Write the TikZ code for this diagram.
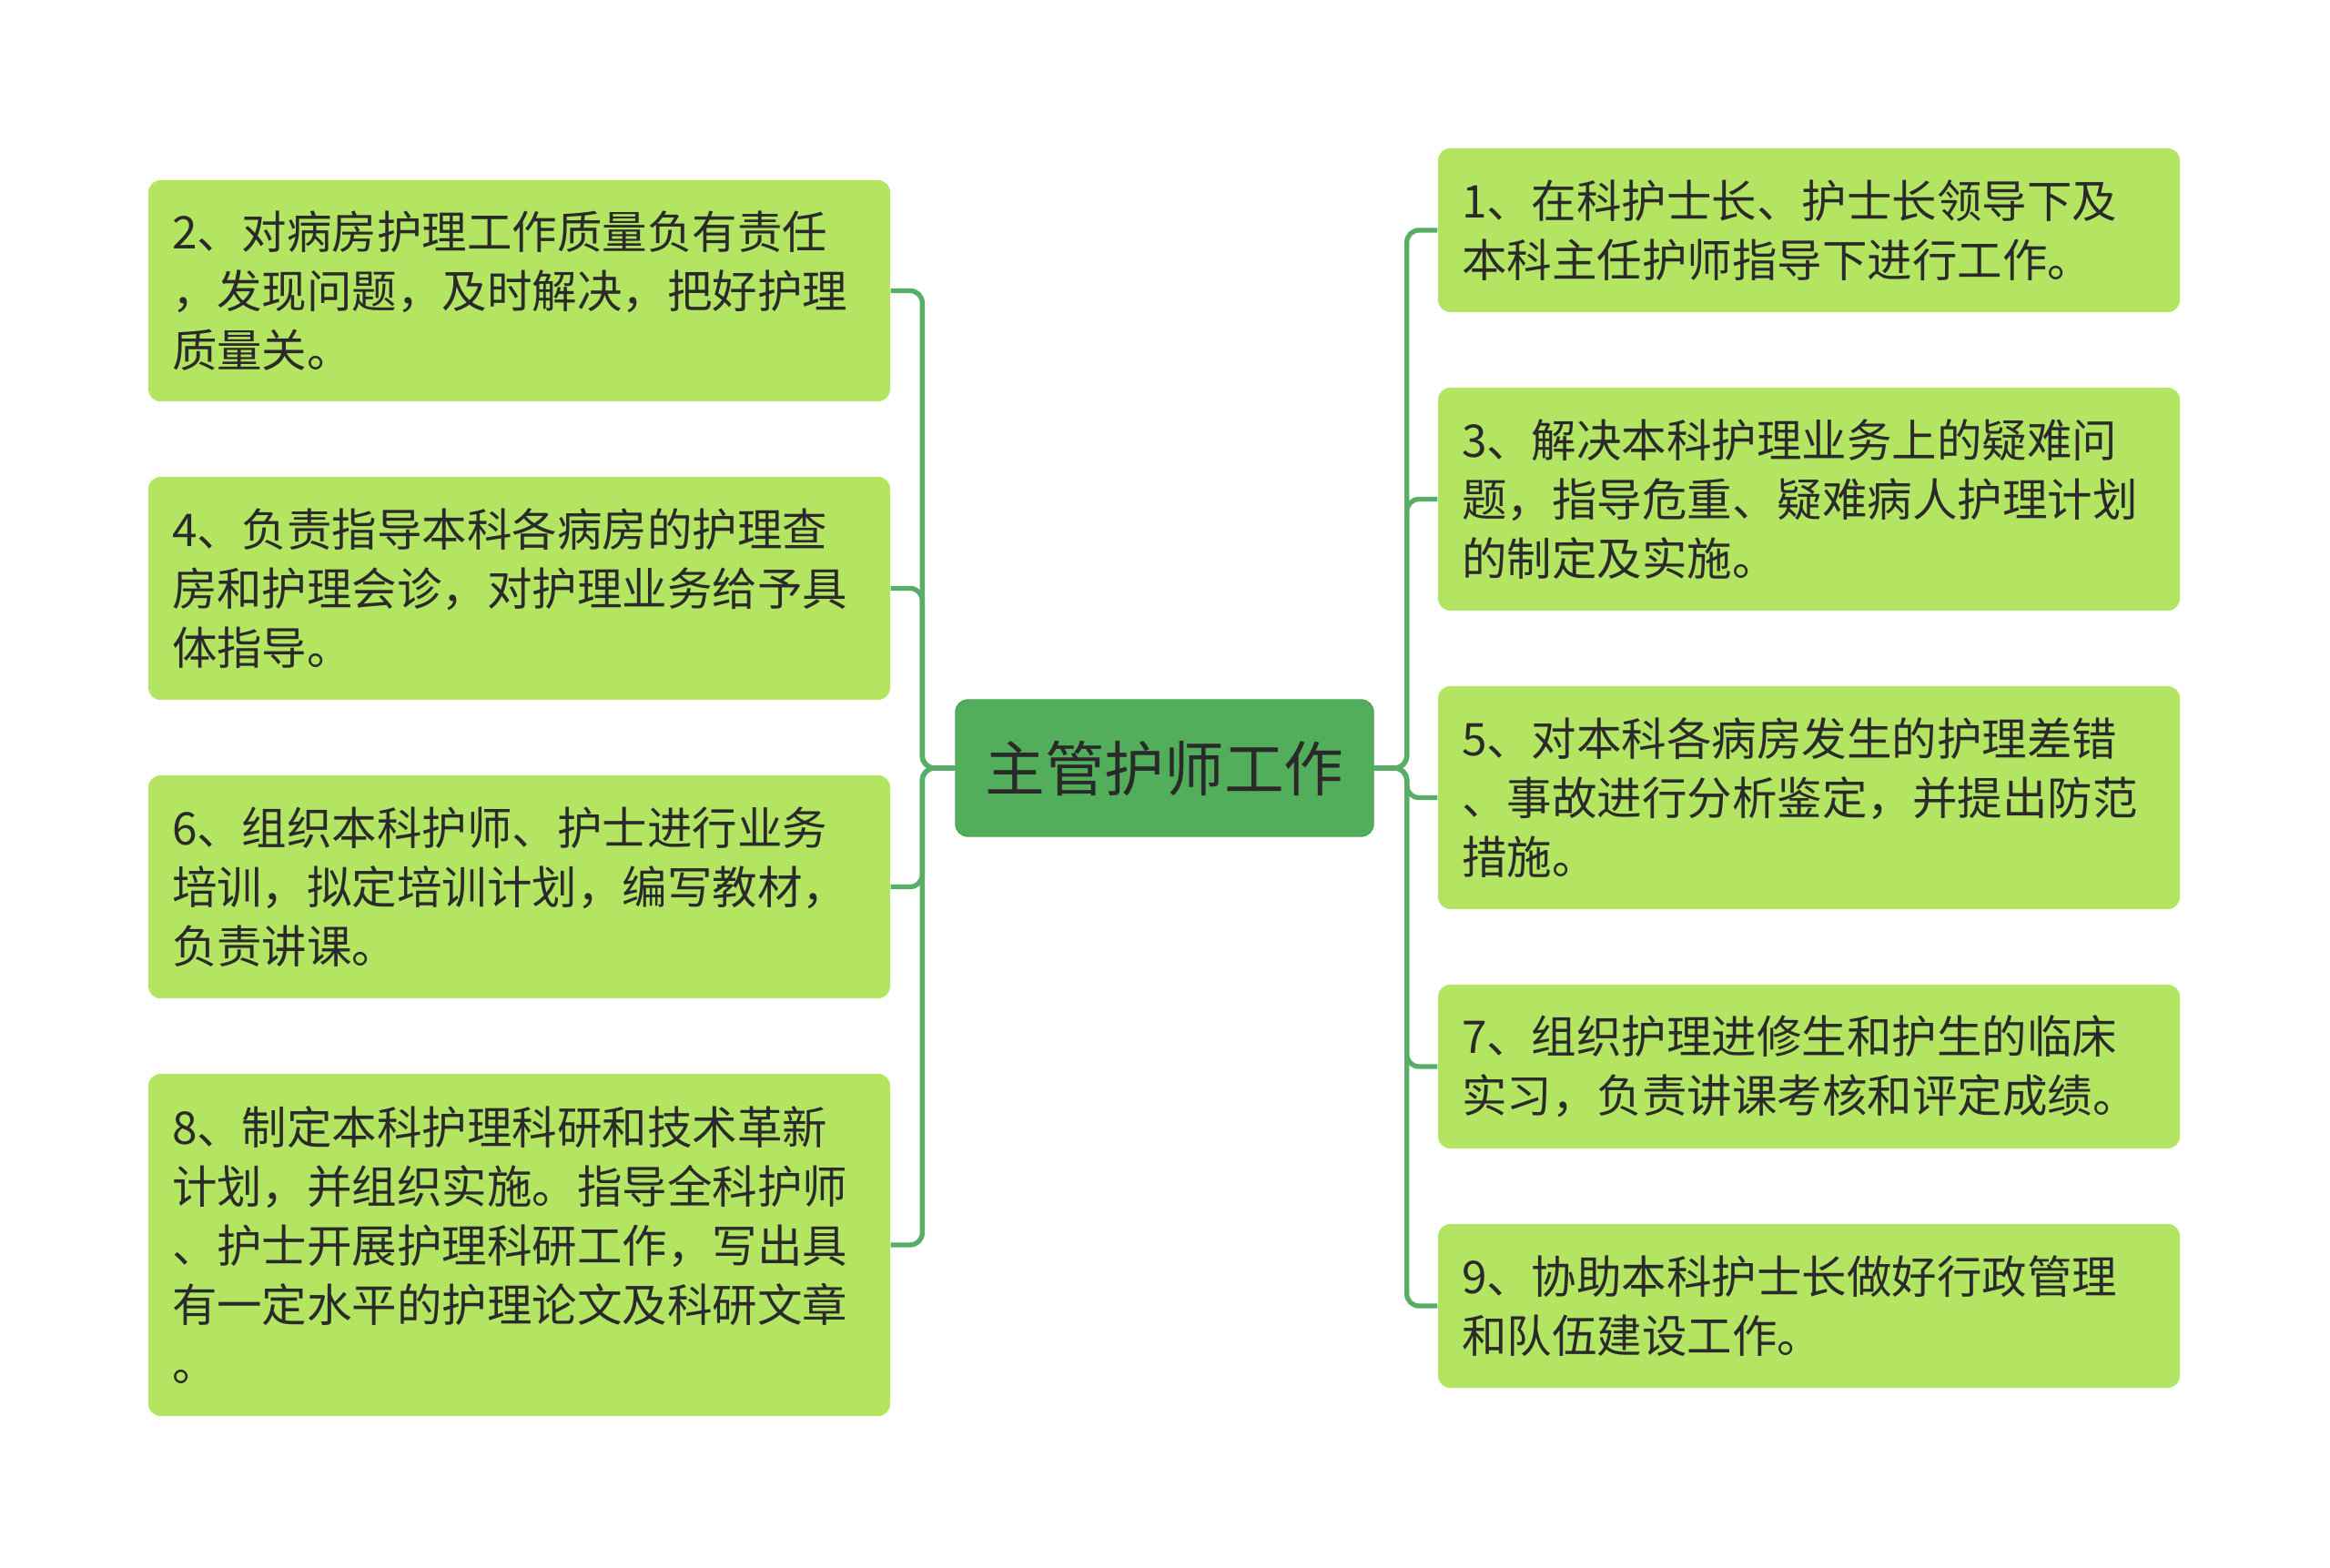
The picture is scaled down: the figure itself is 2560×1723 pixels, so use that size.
\documentclass[tikz,border=0pt]{standalone}
\usepackage{fontspec}
\newfontfamily\cjk{Noto Sans CJK SC}
\definecolor{leafc}{HTML}{B3E462}
\definecolor{rootc}{HTML}{53AE5C}
\definecolor{rootb}{HTML}{4AA453}
\definecolor{linec}{HTML}{58AE66}
\definecolor{txtc}{HTML}{2A2A2A}
\tikzset{
  leaf/.style={rectangle, rounded corners=4pt, fill=leafc, minimum width=815*0.3pt,
    text width=763*0.3pt, inner xsep=26*0.3pt, inner ysep=0pt, align=left, anchor=center,
    text=txtc, font=\cjk\fontsize{14.85pt}{19.5pt}\selectfont},
  rootbox/.style={rectangle, rounded corners=4pt, fill=rootc, draw=rootb, line width=0.4pt,
    minimum width=459*0.3pt, minimum height=150*0.3pt, text=txtc,
    font=\cjk\fontsize{19.7pt}{23pt}\selectfont},
  conn/.style={draw=linec, line width=1.6pt, rounded corners=4pt}
}
\begin{document}
\begin{tikzpicture}[x=0.3pt,y=-0.3pt]
\useasboundingbox (0,0) rectangle (2560,1723);
\node[rootbox] (c) at (1279.5,844) {主管护师工作};
% left
\node[leaf, minimum height=243*0.3pt] (b2) at (570.5,319.5) {2、对病房护理工作质量负有责任\\，发现问题，及时解决，把好护理\\质量关。};
\node[leaf, minimum height=245*0.3pt] (b4) at (570.5,646.5) {4、负责指导本科各病房的护理查\\房和护理会诊，对护理业务给予具\\体指导。};
\node[leaf, minimum height=245*0.3pt] (b6) at (570.5,974.5) {6、组织本科护师、护士进行业务\\培训，拟定培训计划，编写教材，\\负责讲课。};
\node[leaf, minimum height=376*0.3pt] (b8) at (570.5,1368) {8、制定本科护理科研和技术革新\\计划，并组织实施。指导全科护师\\、护士开展护理科研工作，写出具\\有一定水平的护理论文及科研文章\\。};
% right
\node[leaf, minimum height=180*0.3pt] (b1) at (1987.5,253) {1、在科护士长、护士长领导下及\\本科主任护师指导下进行工作。};
\node[leaf, minimum height=245*0.3pt] (b3) at (1987.5,548.5) {3、解决本科护理业务上的疑难问\\题，指导危重、疑难病人护理计划\\的制定及实施。};
\node[leaf, minimum height=245*0.3pt] (b5) at (1987.5,876.5) {5、对本科各病房发生的护理差错\\、事故进行分析鉴定，并提出防范\\措施。};
\node[leaf, minimum height=180*0.3pt] (b7) at (1987.5,1172) {7、组织护理进修生和护生的临床\\实习，负责讲课考核和评定成绩。};
\node[leaf, minimum height=180*0.3pt] (b9) at (1987.5,1435) {9、协助本科护士长做好行政管理\\和队伍建设工作。};
% connectors
\foreach \b in {b2,b4,b6,b8}{
  \draw[conn] (c.west) -- ++(-36,0) |- (\b.east);
}
\foreach \b in {b1,b3,b5,b7,b9}{
  \draw[conn] (c.east) -- ++(36,0) |- (\b.west);
}
\end{tikzpicture}
\end{document}
